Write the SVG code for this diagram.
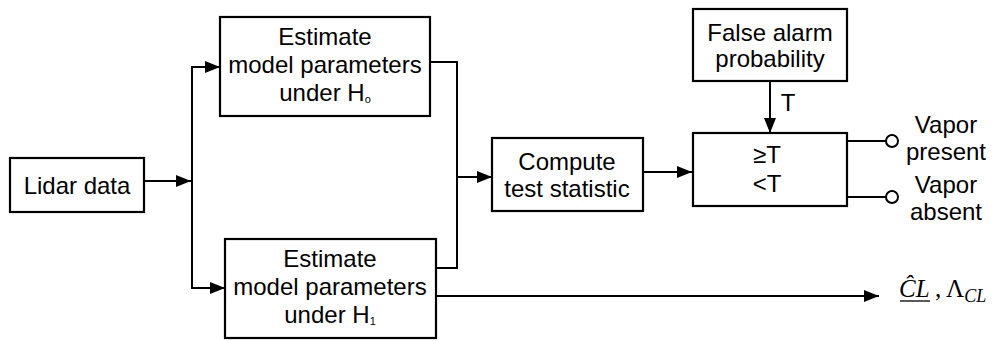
<svg xmlns="http://www.w3.org/2000/svg" width="1003" height="341" viewBox="0 0 1003 341">
<style>
.box{fill:#fff;stroke:#000;stroke-width:2.2}
.t{font-family:"Liberation Sans",Arial,sans-serif;font-size:24px;fill:#000;text-anchor:middle}
.sub{font-size:11px}
.ln{fill:none;stroke:#000;stroke-width:2}
.m{font-family:"Liberation Serif","Times New Roman",serif;font-size:25px;fill:#000}
</style>
<defs>
<marker id="arr" markerUnits="userSpaceOnUse" markerWidth="16" markerHeight="12" refX="15" refY="6" orient="auto">
<path d="M0,0 L15,6 L0,12 z" fill="#000"/>
</marker>
</defs>
<rect width="1003" height="341" fill="#fff"/>
<g id="connectors">
<line class="ln" x1="144" y1="181" x2="191" y2="181" marker-end="url(#arr)"/>
<polyline class="ln" points="219,67 192,67 192,288 224,288"/>
<line class="ln" x1="192" y1="67" x2="220" y2="67" marker-end="url(#arr)"/>
<line class="ln" x1="192" y1="288" x2="225" y2="288" marker-end="url(#arr)"/>
<polyline class="ln" points="430,62 457,62 457,268 436,268"/>
<line class="ln" x1="457" y1="177" x2="492" y2="177" marker-end="url(#arr)"/>
<line class="ln" x1="643" y1="172" x2="692" y2="172" marker-end="url(#arr)"/>
<line class="ln" x1="770" y1="81" x2="770" y2="133" marker-end="url(#arr)"/>
<line class="ln" x1="847" y1="141" x2="886" y2="141"/>
<line class="ln" x1="847" y1="197" x2="886" y2="197"/>
<circle cx="892" cy="141" r="6" fill="#fff" stroke="#000" stroke-width="2"/>
<circle cx="892" cy="197" r="6" fill="#fff" stroke="#000" stroke-width="2"/>
<line class="ln" x1="436" y1="296" x2="879" y2="296" marker-end="url(#arr)"/>
<text class="t" x="788" y="111">T</text>
</g>
<g id="lidar">
<rect class="box" x="10" y="158" width="134" height="54"/>
<text class="t" x="77" y="194">Lidar data</text>
</g>
<g id="est0">
<rect class="box" x="220" y="17" width="210" height="99"/>
<text class="t" x="325" y="45">Estimate</text>
<text class="t" x="325" y="73">model parameters</text>
<text class="t" x="325" y="101">under H<tspan class="sub" dy="2">o</tspan></text>
</g>
<g id="est1">
<rect class="box" x="225" y="239" width="211" height="99"/>
<text class="t" x="330" y="267">Estimate</text>
<text class="t" x="330" y="295">model parameters</text>
<text class="t" x="330" y="323">under H<tspan class="sub" dy="2">1</tspan></text>
</g>
<g id="compute">
<rect class="box" x="492" y="138" width="151" height="73"/>
<text class="t" x="567" y="170">Compute</text>
<text class="t" x="567" y="197">test statistic</text>
</g>
<g id="falsealarm">
<rect class="box" x="693" y="9" width="154" height="72"/>
<text class="t" x="770" y="41">False alarm</text>
<text class="t" x="770" y="67">probability</text>
</g>
<g id="threshold">
<rect class="box" x="693" y="133" width="154" height="73"/>
<text class="t" x="767" y="163">≥T</text>
<text class="t" x="767" y="192">&lt;T</text>
</g>
<g id="outputs">
<text class="t" x="946" y="133">Vapor</text>
<text class="t" x="946" y="160">present</text>
<text class="t" x="946" y="193">Vapor</text>
<text class="t" x="946" y="220">absent</text>
</g>
<g id="estimates">
<text class="m" x="899" y="297" font-style="italic">ĈL</text>
<line x1="900" y1="301" x2="930" y2="301" stroke="#000" stroke-width="1.3"/>
<text class="m" x="935" y="297">,</text>
<text class="m" x="946" y="297">Λ<tspan font-style="italic" font-size="18" dy="5">CL</tspan></text>
</g>
</svg>
